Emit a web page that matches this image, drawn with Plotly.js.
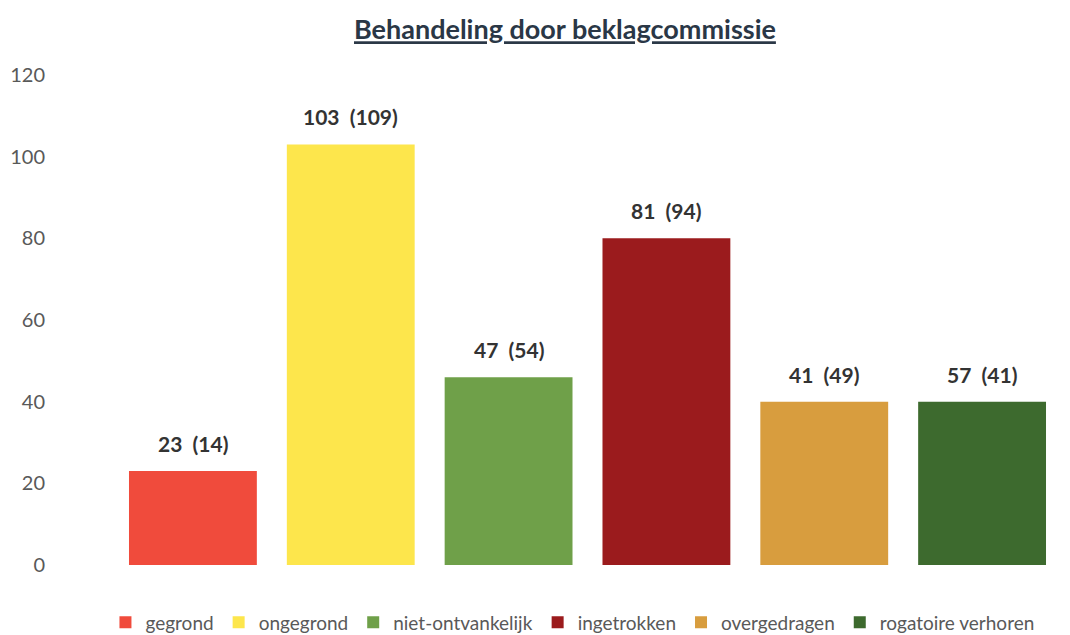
<!DOCTYPE html>
<html>
<head>
<meta charset="utf-8">
<script src="https://cdn.plot.ly/plotly-3.0.1.min.js"></script>
<style>html,body{margin:0;padding:0;background:#fff;}#chart{width:1070px;height:635px;}</style>
</head>
<body>
<div id="chart"></div>
<script>
const categories = ["gegrond", "ongegrond", "niet-ontvankelijk", "ingetrokken", "overgedragen", "rogatoire verhoren"];
const barValues = [23, 103, 46, 80, 40, 40];
const labelTexts = ["23  (14)", "103  (109)", "47  (54)", "81  (94)", "41  (49)", "57  (41)"];
const colors = ["#f04b3c", "#fde64c", "#6fa049", "#9b1b1d", "#d89d3e", "#3d6a2e"];

const traces = categories.map((c, i) => ({
  type: "bar",
  name: c,
  x: [c],
  y: [barValues[i]],
  marker: { color: colors[i], line: { width: 0 } },
  hoverinfo: "skip"
}));

const annotations = categories.map((c, i) => ({
  x: c, y: barValues[i], xref: "x", yref: "y",
  text: "<b>" + labelTexts[i] + "</b>",
  showarrow: false, yanchor: "bottom", yshift: 13,
  font: { family: "Lato, 'Open Sans', sans-serif", size: 21, color: "#333333" }
}));

const layout = {
  width: 1070, height: 635,
  paper_bgcolor: "#ffffff", plot_bgcolor: "#ffffff",
  margin: { l: 114, r: 9, t: 75, b: 70 },
  barmode: "overlay",
  bargap: 0.19,
  title: {
    text: "<b><u>Behandeling door beklagcommissie</u></b>",
    x: 0.528, xref: "container", xanchor: "center",
    y: 0.953, yref: "container", yanchor: "middle",
    font: { family: "Lato, 'Open Sans', sans-serif", size: 27, color: "#2a3746" }
  },
  xaxis: { showticklabels: false, showline: false, showgrid: false, zeroline: false, fixedrange: true },
  yaxis: {
    range: [0, 120], dtick: 20, tick0: 0,
    showgrid: false, zeroline: false, showline: false,
    ticks: "", ticklabelstandoff: 68,
    tickfont: { family: "Lato, 'Open Sans', sans-serif", size: 20, color: "#595959" },
    automargin: false
  },
  showlegend: true,
  legend: {
    orientation: "h",
    xref: "container", yref: "container",
    x: 0.535, xanchor: "center", y: 0.02, yanchor: "middle",
    font: { family: "Lato, 'Open Sans', sans-serif", size: 19, color: "#595959" },
    itemwidth: 30, tracegroupgap: 0
  },
  annotations: annotations
};

Plotly.newPlot("chart", traces, layout, { displayModeBar: false, staticPlot: true });
</script>
</body>
</html>
